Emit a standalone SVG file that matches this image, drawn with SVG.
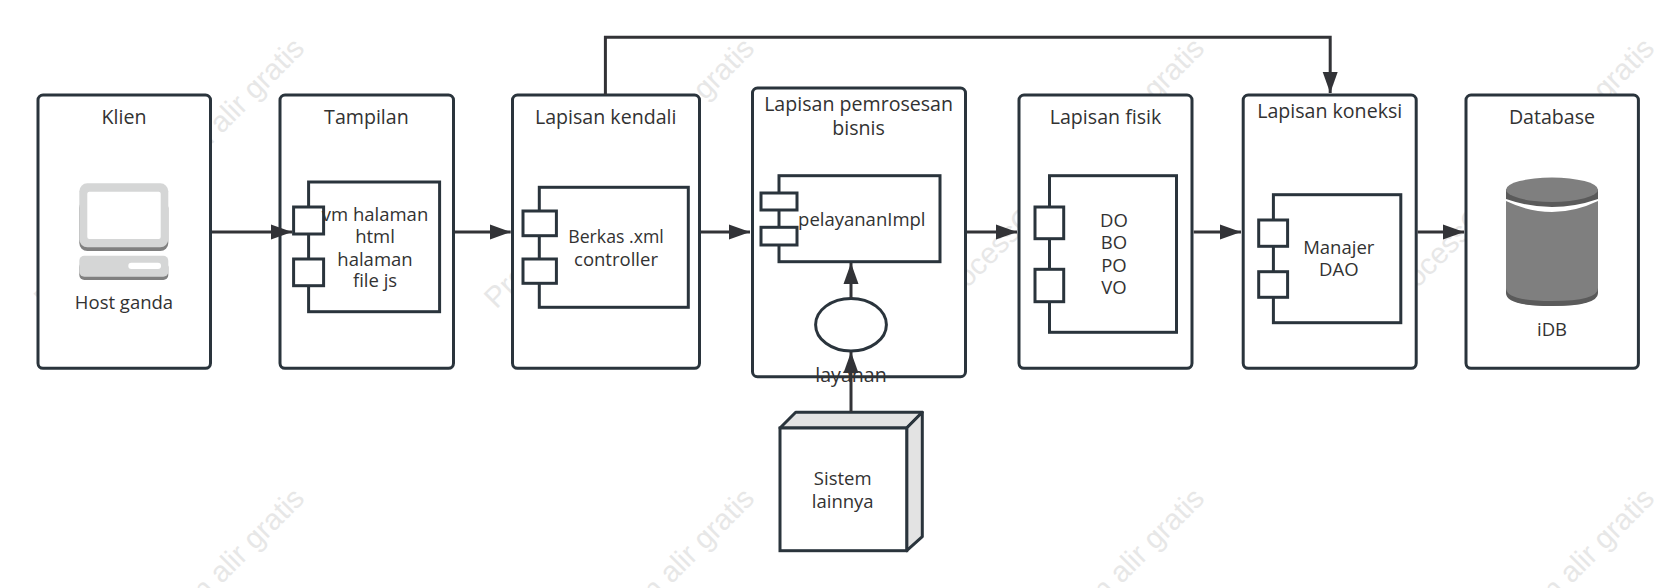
<svg xmlns="http://www.w3.org/2000/svg" width="1675" height="588" viewBox="0 0 1675 588">
<style>
text{font-family:"Open Sans","Noto Sans","Liberation Sans",sans-serif;font-size:18.5px;fill:#323232;text-anchor:middle}
text.t{font-size:19.6px}
text.n{font-size:17.7px}
.wm{font-family:"Liberation Sans",Arial,sans-serif;font-size:29.5px;fill:#e7e7e7;text-anchor:end}
.box{fill:#fff;stroke:#2a343c;stroke-width:3;stroke-linejoin:round}
.comp{fill:#fff;stroke:#2a343c;stroke-width:3}
.conn{fill:none;stroke:#323337;stroke-width:3;marker-end:url(#ah)}
.side{fill:#e3e3e3;stroke:#2a343c;stroke-width:3;stroke-linejoin:round}
</style>
<defs>
<marker id="ah" markerUnits="userSpaceOnUse" markerWidth="22" markerHeight="16" refX="21" refY="8" orient="auto"><path d="M0 0.5L21 8L0 15.5Z" fill="#323337"/></marker>
<g id="mark"><text class="wm" transform="translate(306,50) rotate(-45)">ProcessOn Bagan alir gratis</text></g>
</defs>
<rect width="1675" height="588" fill="#fff"/>
<g id="watermarks">
<use href="#mark"/><use href="#mark" x="450"/><use href="#mark" x="900"/><use href="#mark" x="1350"/>
<use href="#mark" y="450"/><use href="#mark" x="450" y="450"/><use href="#mark" x="900" y="450"/><use href="#mark" x="1350" y="450"/>
</g>
<g id="klien">
<rect class="box" x="38" y="95" width="172.5" height="273.3" rx="5"/>
<text class="t" x="124" y="124">Klien</text>
<rect x="79.3" y="200" width="89" height="51" rx="8" fill="#808080"/>
<rect x="79.3" y="183.3" width="89" height="64" rx="8" fill="#d5d6d6"/>
<rect x="87.3" y="191.7" width="73.4" height="47.3" rx="2" fill="#fff"/>
<rect x="79.3" y="262" width="89" height="18" rx="5" fill="#808080"/>
<rect x="79.3" y="255.7" width="89" height="21" rx="5" fill="#d5d6d6"/>
<rect x="128.3" y="262.7" width="32.7" height="6.3" rx="3" fill="#fff"/>
<text x="124" y="309">Host ganda</text>
</g>
<g id="tampilan">
<rect class="box" x="280" y="95" width="173.5" height="273.3" rx="5"/>
<text class="t" x="366.4" y="124">Tampilan</text>
<rect class="comp" x="308.6" y="182" width="131" height="129.7"/>
<rect class="comp" x="293.6" y="207" width="30" height="27"/>
<rect class="comp" x="293.6" y="259" width="30" height="26.7"/>
<text x="375" y="220.5">vm halaman</text><text x="375" y="242.5">html</text><text x="375" y="265.5">halaman</text><text x="375" y="287">file js</text>
</g>
<g id="kendali">
<rect class="box" x="512.5" y="95" width="187" height="273.3" rx="5"/>
<text class="t" x="605.7" y="124">Lapisan kendali</text>
<rect class="comp" x="539.3" y="187.3" width="149" height="120"/>
<rect class="comp" x="523" y="211" width="33.4" height="24.7"/>
<rect class="comp" x="523" y="259" width="33.4" height="24.3"/>
<text class="n" x="616" y="242.5">Berkas .xml</text><text x="616" y="265.5">controller</text>
</g>
<g id="bisnis">
<rect class="box" x="752.5" y="88" width="213" height="288.7" rx="5"/>
<text class="t" x="858.6" y="111">Lapisan pemrosesan</text><text class="t" x="858.6" y="134.5">bisnis</text>
<rect class="comp" x="779" y="175.7" width="161" height="86"/>
<rect class="comp" x="761" y="193" width="36" height="17"/>
<rect class="comp" x="761" y="227.3" width="36" height="17.7"/>
<text x="861.8" y="225.5">pelayananImpl</text>
</g>
<g id="layanan">
<ellipse class="comp" cx="851" cy="324.7" rx="35.4" ry="26.3"/>
<text class="t" x="851" y="382">layanan</text>
</g>
<g id="fisik">
<rect class="box" x="1019" y="95" width="173" height="273.3" rx="5"/>
<text class="t" x="1105.5" y="124">Lapisan fisik</text>
<rect class="comp" x="1049.5" y="175.7" width="127" height="156.6"/>
<rect class="comp" x="1035" y="207" width="28.7" height="31.7"/>
<rect class="comp" x="1035" y="269.3" width="28.7" height="32.4"/>
<text x="1114" y="226.5">DO</text><text x="1114" y="248.5">BO</text><text x="1114" y="271.5">PO</text><text x="1114" y="293.5">VO</text>
</g>
<g id="koneksi">
<rect class="box" x="1243.2" y="95" width="173" height="273.3" rx="5"/>
<text class="t" x="1329.7" y="117.5">Lapisan koneksi</text>
<rect class="comp" x="1273.4" y="194.7" width="127.4" height="128"/>
<rect class="comp" x="1258.7" y="220" width="28.9" height="26.3"/>
<rect class="comp" x="1258.7" y="271.7" width="28.9" height="25.6"/>
<text x="1338.8" y="253.5">Manajer</text><text x="1338.8" y="276">DAO</text>
</g>
<g id="database">
<rect class="box" x="1466" y="95" width="172.4" height="273.3" rx="5"/>
<text class="t" x="1552" y="124">Database</text>
<path d="M1506 291V201Q1552 223 1598 201V291Q1598 306 1552 306Q1506 306 1506 291Z" fill="#7f7f7f"/>
<path d="M1506 288Q1506 301 1552 301Q1598 301 1598 288V293Q1598 306 1552 306Q1506 306 1506 293Z" fill="#5a5a5a"/>
<path d="M1506 189.5V199Q1552 215 1598 199V189.5Z" fill="#5a5a5a"/>
<ellipse cx="1552" cy="189.7" rx="46" ry="12.2" fill="#7f7f7f"/>
<text x="1552" y="336">iDB</text>
</g>
<g id="sistem">
<path class="side" d="M780 428L795.7 412.3H922.3L906.7 428Z"/>
<path class="side" d="M906.7 428L922.3 412.3V536.7L906.7 550.7Z"/>
<rect class="comp" x="780" y="428" width="126.7" height="122.7"/>
<text x="842.7" y="484.5">Sistem</text><text x="842.7" y="508">lainnya</text>
</g>
<g id="connectors">
<path class="conn" d="M212 232H292"/>
<path class="conn" d="M454.6 232H510.7"/>
<path class="conn" d="M701 232H750"/>
<path class="conn" d="M967 232H1017"/>
<path class="conn" d="M1193.7 232H1241"/>
<path class="conn" d="M1417.6 232H1464"/>
<path class="conn" d="M605.4 95V37.3H1330.2V93"/>
<path class="conn" d="M851 298V263"/>
<path class="conn" d="M851 412V352"/>
</g>
</svg>
